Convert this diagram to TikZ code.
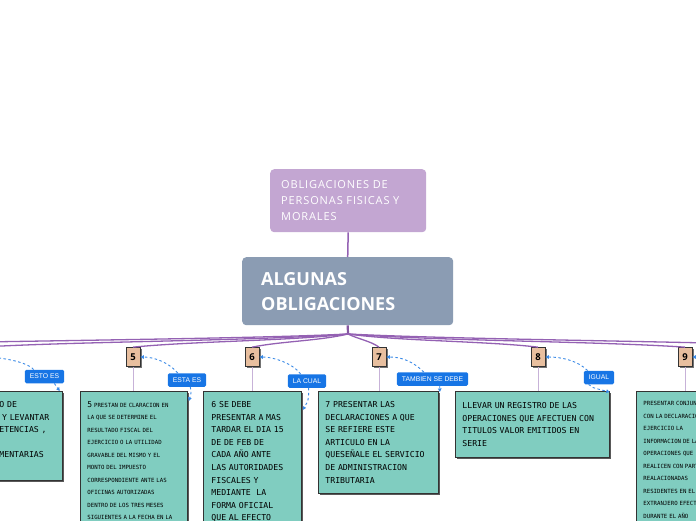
\documentclass[tikz,border=0pt]{standalone}
\usepackage{fontspec}
\setmainfont{Open Sans}
\newfontfamily\titlefont[LetterSpace=8]{Open Sans}
\newfontfamily\pixfont{DejaVu Sans Mono}
\newfontfamily\tagfont{Liberation Sans}
\usetikzlibrary{arrows.meta,calc,shadows}

\definecolor{topviolet}{HTML}{C3A6D2}
\definecolor{mainslate}{HTML}{8B9CB3}
\definecolor{boxteal}{HTML}{80CDC0}
\definecolor{numtan}{HTML}{E8BF9F}
\definecolor{tagblue}{HTML}{1775E5}
\definecolor{linkblue}{HTML}{3A8AE6}
\definecolor{branchviolet}{HTML}{9461B3}
\definecolor{stemviolet}{HTML}{C7B2D8}

\begin{document}
\begin{tikzpicture}[x=1pt,y=-1pt,
    topic/.style={anchor=north west, rounded corners=4pt, text=white, align=left},
    note/.style={anchor=north west, fill=boxteal, draw=black!80, line width=0.8pt,
        align=left, inner ysep=10pt,
        drop shadow={shadow xshift=1.8pt, shadow yshift=-1.8pt, fill=black, opacity=0.65}},
    num/.style={fill=numtan, draw=black!80, line width=0.7pt, minimum width=14pt,
        minimum height=19pt, inner sep=0pt, font=\bfseries\fontsize{9.5}{9.5}\selectfont,
        drop shadow={shadow xshift=1.8pt, shadow yshift=-1.8pt, fill=black, opacity=0.55}},
    tag/.style={fill=tagblue, text=white, rounded corners=1.5pt, minimum height=13.5pt,
        inner xsep=5pt, inner ysep=0pt, font=\tagfont\fontsize{6.8}{6.8}\selectfont},
    link/.style={draw=linkblue, line width=0.9pt, dash pattern=on 2.5pt off 2.5pt,
        -{Triangle[length=3.5pt,width=3.5pt]}},
    branch/.style={draw=branchviolet, line width=1.3pt},
    stem/.style={draw=stemviolet, line width=1pt},
    bigtext/.style={font=\pixfont\fontsize{8.2}{12.6}\selectfont},
    smalltext/.style={font=\pixfont\fontsize{5.7}{12.5}\selectfont}
]
\useasboundingbox (0,0) rectangle (696,520);

% central topics
\node[topic, fill=topviolet, text width=134pt, inner xsep=11pt, minimum height=63pt,
    font=\titlefont\fontsize{11}{16}\selectfont] (top) at (270,169)
    {OBLIGACIONES DE\\PERSONAS FISICAS Y\\MORALES};
\node[topic, fill=mainslate, text width=173pt, inner xsep=19pt, minimum height=68pt,
    font=\bfseries\fontsize{18}{25}\selectfont] (main) at (242,257)
    {ALGUNAS\\OBLIGACIONES};

% number boxes
\coordinate (n3) at (-230,347.5);
\coordinate (n4) at (-25,357);
\node[num] (n5) at (133,357) {5};
\node[num] (n6) at (252,357) {6};
\node[num] (n7) at (379,357) {7};
\node[num] (n8) at (538,357) {8};
\node[num] (n9) at (685,357) {9};
\coordinate (n10) at (850,347.5);
\coordinate (hub) at (348,334);

% notes
\node[note, bigtext, text width=55pt, inner xsep=8pt] (box4) at (-9,391)
    {O DE\\\ Y LEVANTAR\\ETENCIAS ,\\\mbox{}\\MENTARIAS\\\mbox{}};
\node[note, smalltext, text width=93pt, inner xsep=7pt] (box5) at (80,391)
    {{\fontsize{8}{12.5}\selectfont 5} PRESTAN DE CLARACION EN\\LA QUE SE DETERMINE EL\\
     RESULTADO FISCAL DEL\\EJERCICIO O LA UTILIDAD\\GRAVABLE DEL MISMO Y EL\\
     MONTO DEL IMPUESTO\\CORRESPONDIENTE ANTE LAS\\OFICINAS AUTORIZADAS\\
     DENTRO DE LOS TRES MESES\\SIGUIENTES A LA FECHA EN LA};
\node[note, bigtext, text width=82pt, inner xsep=8pt] (box6) at (203,391)
    {6 SE DEBE\\PRESENTAR A MAS\\TARDAR EL DIA 15\\DE DE FEB DE\\CADA AÑO ANTE\\
     LAS AUTORIDADES\\FISCALES Y\\MEDIANTE\ \ LA\\FORMA OFICIAL\\QUE AL EFECTO};
\node[note, bigtext, text width=106pt, inner xsep=7pt, minimum height=102pt] (box7) at (318,391)
    {7 PRESENTAR LAS\\DECLARACIONES A QUE\\SE REFIERE ESTE\\ARTICULO EN LA\\
     QUESEÑALE EL SERVICIO\\DE ADMINISTRACION\\TRIBUTARIA};
\node[note, bigtext, text width=140pt, inner xsep=7pt, minimum height=66pt] (box8) at (455,391)
    {LLEVAR UN REGISTRO DE LAS\\OPERACIONES QUE AFECTUEN CON\\TITULOS VALOR EMITIDOS EN\\SERIE};
\node[note, smalltext, text width=120pt, inner xsep=7pt] (box9) at (636,391)
    {PRESENTAR CONJUNTAMENTE\\CON LA DECLARACION DEL\\EJERCICIO LA\\INFORMACION DE LAS\\
     OPERACIONES QUE\\REALICEN CON PARTES\\REALACIONADAS\\RESIDENTES EN EL\\
     EXTRANJERO EFECTUADAS\\DURANTE EL AÑO};

% relation labels
\node[tag] (lab4) at (44.5,376.5) {ESTO ES};
\node[tag] (lab5) at (187,380) {ESTA ES};
\node[tag] (lab6) at (307,381) {LA CUAL};
\node[tag] (lab7) at (432.5,379) {TAMBIEN SE DEBE};
\node[tag] (lab8) at (599,377.5) {IGUAL};
\coordinate (lab9) at (740,372);

% branches
\draw[draw=branchviolet, line width=1.5pt] (top.south) -- (main.north);
\draw[draw=branchviolet!90!black, line width=2.2pt] (main.south) -- (hub);
\draw[branch] (hub) .. controls +(-120,6) and +(120,-6) .. (n3);
\draw[branch] (hub) .. controls +(-90,7) and +(90,-6) .. ($(n4)+(0,-9.5)$);
\draw[branch] (hub) .. controls +(-60,7) and +(60,-6) .. (n5.north);
\draw[branch] (hub) .. controls +(-30,7) and +(30,-6) .. (n6.north);
\draw[branch] (hub) .. controls +(10,5) and +(-8,-6) .. (n7.north);
\draw[branch] (hub) .. controls +(50,7) and +(-50,-6) .. (n8.north);
\draw[branch] (hub) .. controls +(90,7) and +(-90,-6) .. (n9.north);
\draw[branch] (hub) .. controls +(120,6) and +(-120,-6) .. (n10);

% stems
\draw[stem] (n5.south) -- (n5.south |- box5.north);
\draw[stem] (n6.south) -- (n6.south |- box6.north);
\draw[stem] (n7.south) -- (n7.south |- box7.north);
\draw[stem] (n8.south) -- (n8.south |- box8.north);
\draw[stem] (n9.south) -- (n9.south |- box9.north);

% relations
\draw[link] ($(lab4.north west)+(9,0)$) .. controls +(-8,-9) and +(14,0) .. ($(n4)+(7,0)$);
\draw[link] ($(lab4.south east)+(-10,0)$) .. controls +(2,3) .. ($(box4.north east)+(-3,0)$);
\draw[link] ($(lab5.north west)+(10,0)$) .. controls +(-8,-10) and +(14,0) .. (n5.east);
\draw[link] ($(lab5.south east)+(-16,0)$) .. controls +(1,6) .. ($(box5.north east)+(1,10)$);
\draw[link] ($(lab6.north west)+(13,0)$) .. controls +(-8,-11) and +(14,0) .. (n6.east);
\draw[link] ($(lab6.south west)+(21,0)$) .. controls +(0,12) .. ($(box6.north east)+(1,19)$);
\draw[link] ($(lab7.north west)+(27,0)$) .. controls +(-10,-10) and +(16,0) .. (n7.east);
\draw[link] ($(lab7.south west)+(43,0)$) .. controls +(0,3) .. ($(box7.north east)+(1,1)$);
\draw[link] ($(lab8.north west)+(4,0)$) .. controls +(-10,-10) and +(16,0) .. (n8.east);
\draw[link] ($(lab8.south west)+(5,0)$) .. controls +(3,3) .. ($(box8.north east)+(0,1)$);
\draw[link] (lab9) .. controls +(-10,-10) and +(16,0) .. (n9.east);
\end{tikzpicture}
\end{document}
